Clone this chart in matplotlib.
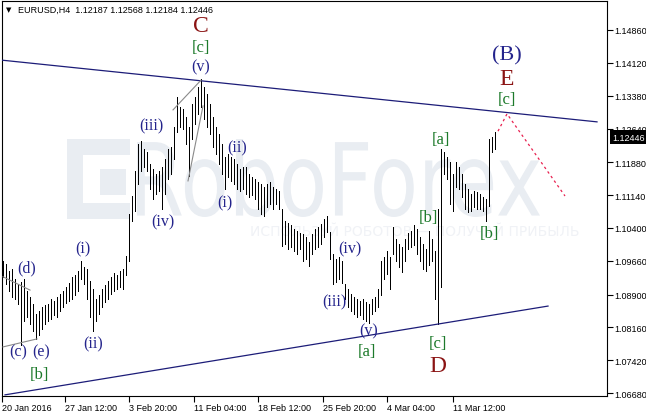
import matplotlib.pyplot as plt
from matplotlib.patches import PathPatch, Rectangle
from matplotlib.textpath import TextPath
from matplotlib.font_manager import FontProperties
from matplotlib.transforms import Affine2D, blended_transform_factory

# H4 bars, high / low (one entry per bar)
highs = [
    1.0966, 1.0959, 1.0943, 1.0948, 1.0925, 1.0914, 1.0918, 1.0925, 1.0898, 1.0884,
    1.0869, 1.0846, 1.0853, 1.0862, 1.0866, 1.0869, 1.0880, 1.0875, 1.0884, 1.0891,
    1.0898, 1.0907, 1.0916, 1.0930, 1.0934, 1.0943, 1.0966, 1.0952, 1.0948, 1.0921,
    1.0902, 1.0880, 1.0889, 1.0902, 1.0912, 1.0921, 1.0930, 1.0939, 1.0934, 1.0943,
    1.0948, 1.0977, 1.1071, 1.1112, 1.1168, 1.1229, 1.1236, 1.1218, 1.1211, 1.1184,
    1.1173, 1.1162, 1.1168, 1.1177, 1.1195, 1.1218, 1.1222, 1.1267, 1.1335, 1.1313,
    1.1308, 1.1290, 1.1267, 1.1319, 1.1335, 1.1358, 1.1376, 1.1358, 1.1342, 1.1319,
    1.1290, 1.1267, 1.1252, 1.1229, 1.1200, 1.1207, 1.1200, 1.1195, 1.1184, 1.1173,
    1.1177, 1.1177, 1.1162, 1.1155, 1.1150, 1.1144, 1.1139, 1.1132, 1.1139, 1.1144,
    1.1132, 1.1128, 1.1123, 1.1083, 1.1056, 1.1051, 1.1047, 1.1038, 1.1033, 1.1029,
    1.1026, 1.1020, 1.1008, 1.1026, 1.1038, 1.1042, 1.1049, 1.1060, 1.1067, 1.1031,
    1.0981, 1.0970, 1.0975, 1.0966, 1.0914, 1.0902, 1.0891, 1.0884, 1.0880, 1.0875,
    1.0880, 1.0873, 1.0869, 1.0880, 1.0884, 1.0902, 1.0966, 1.0975, 1.0988, 1.0975,
    1.1042, 1.1015, 1.1004, 1.0997, 1.1015, 1.1029, 1.1033, 1.1047, 1.1038, 1.1020,
    1.1004, 1.0993, 1.1033, 1.1015, 1.0988, 1.1083, 1.1218, 1.1211, 1.1200, 1.1189,
    1.1162, 1.1189, 1.1177, 1.1162, 1.1139, 1.1128, 1.1116, 1.1123, 1.1121, 1.1116,
    1.1110, 1.1105, 1.1240, 1.1245, 1.1257,
]
lows = [
    1.0930, 1.0914, 1.0898, 1.0884, 1.0880, 1.0869, 1.0776, 1.0830, 1.0839, 1.0824,
    1.0808, 1.0790, 1.0799, 1.0812, 1.0824, 1.0830, 1.0835, 1.0844, 1.0839, 1.0853,
    1.0862, 1.0871, 1.0875, 1.0880, 1.0889, 1.0898, 1.0925, 1.0914, 1.0880, 1.0839,
    1.0808, 1.0830, 1.0846, 1.0862, 1.0873, 1.0880, 1.0891, 1.0898, 1.0902, 1.0907,
    1.0902, 1.0934, 1.0966, 1.1056, 1.1078, 1.1139, 1.1168, 1.1177, 1.1168, 1.1128,
    1.1105, 1.1116, 1.1123, 1.1083, 1.1116, 1.1150, 1.1162, 1.1195, 1.1256, 1.1267,
    1.1263, 1.1229, 1.1157, 1.1240, 1.1274, 1.1297, 1.1313, 1.1285, 1.1267, 1.1252,
    1.1222, 1.1207, 1.1184, 1.1162, 1.1128, 1.1155, 1.1146, 1.1139, 1.1128, 1.1123,
    1.1128, 1.1116, 1.1110, 1.1114, 1.1105, 1.1083, 1.1071, 1.1067, 1.1087, 1.1094,
    1.1083, 1.1094, 1.1083, 1.0999, 1.1004, 1.0993, 1.0997, 1.0988, 1.0981, 1.0993,
    1.0966, 1.0970, 1.0954, 1.0981, 1.0993, 1.0997, 1.1004, 1.1020, 1.1031, 1.0970,
    1.0914, 1.0918, 1.0925, 1.0916, 1.0880, 1.0862, 1.0853, 1.0846, 1.0839, 1.0844,
    1.0835, 1.0830, 1.0826, 1.0846, 1.0853, 1.0862, 1.0889, 1.0925, 1.0936, 1.0902,
    1.0981, 1.0966, 1.0952, 1.0941, 1.0966, 1.0993, 1.0997, 1.1002, 1.0981, 1.0966,
    1.0948, 1.0943, 1.0957, 1.0966, 1.0880, 1.0824, 1.0907, 1.1162, 1.1150, 1.1094,
    1.1078, 1.1132, 1.1128, 1.1110, 1.1083, 1.1076, 1.1078, 1.1087, 1.1083, 1.1083,
    1.1078, 1.1056, 1.1089, 1.1211, 1.1218,
]

header = "EURUSD,H4  1.12187 1.12568 1.12184 1.12446"
last_price = 1.12446
price_ticks = [1.14860, 1.14120, 1.13380, 1.12640, 1.11880, 1.11140,
               1.10400, 1.09660, 1.08900, 1.08160, 1.07420, 1.06680]
date_labels = ["20 Jan 2016", "27 Jan 12:00", "3 Feb 20:00", "11 Feb 04:00",
               "18 Feb 12:00", "25 Feb 20:00", "4 Mar 04:00", "11 Mar 12:00"]
date_bars = [-0.33, 20.67, 42, 63.67, 85, 106.67, 128, 150]

# channel lines (bar index, price)
upper_x = [-0.33, 198]
upper_y = [1.1418, 1.1279]
lower_x = [0.67, 181.67]
lower_y = [1.0664, 1.0864]
# small grey helper lines
grey_x = [[0, 9], [0, 11.33], [56.67, 66], [61.67, 66.67]]
grey_y = [[1.0930, 1.0900], [1.0772, 1.0790], [1.1306, 1.1373], [1.1146, 1.1315]]
# forecast path
fc_x = [165, 168, 187.33]
fc_y = [1.1258, 1.1297, 1.1112]

# wave labels
wave_text = ["C", "[c]", "(v)", "(iii)", "(iv)", "(i)", "(ii)", "(d)", "(c)", "(e)",
             "[b]", "(i)", "(ii)", "(iv)", "(iii)", "(v)", "[a]", "[b]", "[a]", "[b]",
             "[c]", "D", "(B)", "E", "[c]"]
wave_x = [66, 66, 66, 49.3, 53.3, 74, 78, 8, 5, 12.7,
          12.3, 26.7, 30, 115.7, 110.3, 122, 121.3, 141.7, 146, 162,
          145, 145, 168, 168, 168]
wave_y = [1.1495, 1.1448, 1.1403, 1.1270, 1.1055, 1.1098, 1.1222, 1.0952, 1.0761, 1.0763,
          1.0711, 1.0993, 1.0781, 1.0993, 1.0875, 1.0810, 1.0763, 1.1065, 1.1240, 1.1029,
          1.0781, 1.0729, 1.1430, 1.1376, 1.1331]
wave_kind = ["r", "g", "n", "n", "n", "n", "n", "n", "n", "n",
             "g", "n", "n", "n", "n", "n", "g", "g", "g", "g",
             "g", "r", "B", "r", "g"]

styles = {"n": ("#24248c", 11.5), "g": ("#1d7a2b", 12), "r": ("#8b1414", 17),
          "B": ("#24248c", 16)}
small = dict(family="Liberation Sans", fontsize=6.5)

W, H = 646, 414
fig = plt.figure(figsize=(W / 100, H / 100), dpi=100)
ax = fig.add_axes([2 / W, 17 / H, 605 / W, 395 / H])
ax.set_xlim(-1 / 3, 201.33)
ax.set_ylim(1.06614, 1.15513)

# watermark
wm = "#e9edf2"
pix = Affine2D().scale(1 / 100) + fig.dpi_scale_trans
tp = TextPath((0, 0), "RoboForex", size=100, prop=FontProperties(family="DejaVu Sans"))
bb = tp.get_extents()
tr = Affine2D().translate(-bb.x0, -bb.y0).scale(403 / bb.width, 78 / bb.height).translate(137, H - 218)
ax.add_patch(PathPatch(tp, transform=tr + pix, fc=wm, ec="none", zorder=0.5))
for x0, y0, w, h in [(67, 140, 63, 16), (67, 140, 16, 80), (67, 204, 63, 16), (100, 170, 26, 26)]:
    ax.add_patch(Rectangle((x0, H - y0 - h), w, h, transform=pix, fc=wm, ec="none", zorder=0.5))
ax.text(413 / 605, 1 - 230 / 395, "ИСПОЛЬЗУЙ РОБОТОВ — ПОЛУЧАЙ ПРИБЫЛЬ", color="#f0f2f6",
        fontsize=10, ha="center", va="center", zorder=0.6, transform=ax.transAxes)

bars = range(len(highs))
ax.vlines(bars, lows, highs, color="black", lw=0.55, antialiased=False, zorder=2)

ax.plot(upper_x, upper_y, color="#1c1c78", lw=0.9, zorder=3)
ax.plot(lower_x, lower_y, color="#1c1c78", lw=0.9, zorder=3)
for gx, gy in zip(grey_x, grey_y):
    ax.plot(gx, gy, color="#8a8a8a", lw=0.8, zorder=3)
ax.plot(fc_x, fc_y, color="#e8204f", lw=0.9, ls=(0, (2, 2.5)), zorder=3)

for t, x, y, k in zip(wave_text, wave_x, wave_y, wave_kind):
    c, s = styles[k]
    ax.text(x, y, t, color=c, fontsize=s, family="Liberation Serif",
            ha="center", va="center", zorder=4)

# axes styling
for sp in ax.spines.values():
    sp.set_color("black")
    sp.set_linewidth(0.8)
ax.yaxis.tick_right()
ax.set_yticks(price_ticks)
ax.set_yticklabels(["%.5f" % p for p in price_ticks], **small)
ax.tick_params(axis="y", length=4, width=0.8, pad=1.5)
ax.set_xticks(date_bars)
ax.set_xticklabels(date_labels, ha="left", **small)
ax.tick_params(axis="x", length=4, width=0.8, pad=1)

tb = blended_transform_factory(ax.transAxes, ax.transData)
ax.text(1.0 + 5 / 605, last_price, "%.5f" % last_price, transform=tb, color="white",
        ha="left", va="center", zorder=6, clip_on=False,
        bbox=dict(fc="black", ec="none", pad=1.6), **small)

fig.text(6 / W, 1 - 10 / H, "▼", fontsize=5, ha="left", va="center")
fig.text(18 / W, 1 - 10 / H, header, ha="left", va="center", **small)

fig.savefig("out.png", dpi=100)
